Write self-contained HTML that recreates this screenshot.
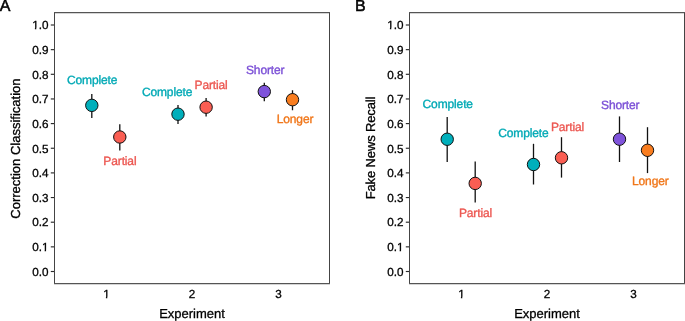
<!DOCTYPE html>
<html><head><meta charset="utf-8"><style>
html,body{margin:0;padding:0;background:#fff;width:685px;height:321px;overflow:hidden}
svg{display:block;font-family:"Liberation Sans",sans-serif;will-change:transform;color:#000}
text{stroke:currentColor;stroke-width:0.3px;paint-order:stroke;text-rendering:geometricPrecision}
</style></head><body>
<svg width="685" height="321" viewBox="0 0 685 321">
<rect width="685" height="321" fill="#fff"/>
<path d="M54.5 12V284M329.5 12V284" stroke="#444" stroke-width="1" fill="none"/>
<path d="M54 12.62H330M54 283.68H330" stroke="#555555" stroke-width="1.12" fill="none"/>
<line x1="50.8" y1="271.50" x2="54" y2="271.50" stroke="#2a2a2a" stroke-width="1.15"/>
<text x="48.4" y="275.75" text-anchor="end" font-size="11.7">0.0</text>
<line x1="50.8" y1="246.85" x2="54" y2="246.85" stroke="#2a2a2a" stroke-width="1.15"/>
<text x="48.4" y="251.10" text-anchor="end" font-size="11.7">0.1</text>
<line x1="50.8" y1="222.20" x2="54" y2="222.20" stroke="#2a2a2a" stroke-width="1.15"/>
<text x="48.4" y="226.45" text-anchor="end" font-size="11.7">0.2</text>
<line x1="50.8" y1="197.55" x2="54" y2="197.55" stroke="#2a2a2a" stroke-width="1.15"/>
<text x="48.4" y="201.80" text-anchor="end" font-size="11.7">0.3</text>
<line x1="50.8" y1="172.90" x2="54" y2="172.90" stroke="#2a2a2a" stroke-width="1.15"/>
<text x="48.4" y="177.15" text-anchor="end" font-size="11.7">0.4</text>
<line x1="50.8" y1="148.25" x2="54" y2="148.25" stroke="#2a2a2a" stroke-width="1.15"/>
<text x="48.4" y="152.50" text-anchor="end" font-size="11.7">0.5</text>
<line x1="50.8" y1="123.60" x2="54" y2="123.60" stroke="#2a2a2a" stroke-width="1.15"/>
<text x="48.4" y="127.85" text-anchor="end" font-size="11.7">0.6</text>
<line x1="50.8" y1="98.95" x2="54" y2="98.95" stroke="#2a2a2a" stroke-width="1.15"/>
<text x="48.4" y="103.20" text-anchor="end" font-size="11.7">0.7</text>
<line x1="50.8" y1="74.30" x2="54" y2="74.30" stroke="#2a2a2a" stroke-width="1.15"/>
<text x="48.4" y="78.55" text-anchor="end" font-size="11.7">0.8</text>
<line x1="50.8" y1="49.65" x2="54" y2="49.65" stroke="#2a2a2a" stroke-width="1.15"/>
<text x="48.4" y="53.90" text-anchor="end" font-size="11.7">0.9</text>
<line x1="50.8" y1="25.00" x2="54" y2="25.00" stroke="#2a2a2a" stroke-width="1.15"/>
<text x="48.4" y="29.25" text-anchor="end" font-size="11.7">1.0</text>
<text x="106.40" y="297.6" text-anchor="middle" font-size="11.7">1</text>
<text x="192.10" y="297.6" text-anchor="middle" font-size="11.7">2</text>
<text x="278.40" y="297.6" text-anchor="middle" font-size="11.7">3</text>
<text x="192.0" y="318.3" text-anchor="middle" font-size="13">Experiment</text>
<text transform="translate(19.5,148.6) rotate(-90)" text-anchor="middle" font-size="13" letter-spacing="0">Correction Classification</text>
<text x="-0.35" y="11" font-size="16" style="stroke-width:0.5px">A</text>
<line x1="91.8" y1="93.9" x2="91.8" y2="117.9" stroke="#111" stroke-width="1.3"/>
<circle cx="91.8" cy="105.35" r="6.2" fill="#00AFBB" stroke="#111" stroke-width="1.0"/>
<line x1="119.8" y1="124.3" x2="119.8" y2="150.5" stroke="#111" stroke-width="1.3"/>
<circle cx="119.8" cy="137" r="6.2" fill="#FA5E53" stroke="#111" stroke-width="1.0"/>
<line x1="178" y1="105" x2="178" y2="124" stroke="#111" stroke-width="1.3"/>
<circle cx="178" cy="114.2" r="6.2" fill="#00AFBB" stroke="#111" stroke-width="1.0"/>
<line x1="206.1" y1="98.1" x2="206.1" y2="116.6" stroke="#111" stroke-width="1.3"/>
<circle cx="206.1" cy="107.2" r="6.2" fill="#FA5E53" stroke="#111" stroke-width="1.0"/>
<line x1="264.3" y1="82.75" x2="264.3" y2="101.25" stroke="#111" stroke-width="1.3"/>
<circle cx="264.3" cy="91.6" r="6.2" fill="#7F53DB" stroke="#111" stroke-width="1.0"/>
<line x1="292.5" y1="90.25" x2="292.5" y2="110.25" stroke="#111" stroke-width="1.3"/>
<circle cx="292.5" cy="99.7" r="6.2" fill="#F97D1F" stroke="#111" stroke-width="1.0"/>
<text x="92.2" y="83.6" text-anchor="middle" font-size="12" letter-spacing="-0.13" fill="#00A9B5" color="#00A9B5" style="stroke-width:0.35px">Complete</text>
<text x="119.9" y="165.0" text-anchor="middle" font-size="12" letter-spacing="-0.13" fill="#EC5650" color="#EC5650" style="stroke-width:0.35px">Partial</text>
<text x="167.1" y="96.25" text-anchor="middle" font-size="12" letter-spacing="-0.13" fill="#00A9B5" color="#00A9B5" style="stroke-width:0.35px">Complete</text>
<text x="211.1" y="88.6" text-anchor="middle" font-size="12" letter-spacing="-0.13" fill="#EC5650" color="#EC5650" style="stroke-width:0.35px">Partial</text>
<text x="265.2" y="73.6" text-anchor="middle" font-size="12" letter-spacing="-0.13" fill="#7A4ED6" color="#7A4ED6" style="stroke-width:0.35px">Shorter</text>
<text x="295" y="123.2" text-anchor="middle" font-size="12" letter-spacing="-0.13" fill="#F07619" color="#F07619" style="stroke-width:0.35px">Longer</text>
<path d="M409.5 12V284M684.5 12V284" stroke="#444" stroke-width="1" fill="none"/>
<path d="M409 12.62H685M409 283.68H685" stroke="#555555" stroke-width="1.12" fill="none"/>
<line x1="405.8" y1="271.50" x2="409" y2="271.50" stroke="#2a2a2a" stroke-width="1.15"/>
<text x="403.4" y="275.75" text-anchor="end" font-size="11.7">0.0</text>
<line x1="405.8" y1="246.85" x2="409" y2="246.85" stroke="#2a2a2a" stroke-width="1.15"/>
<text x="403.4" y="251.10" text-anchor="end" font-size="11.7">0.1</text>
<line x1="405.8" y1="222.20" x2="409" y2="222.20" stroke="#2a2a2a" stroke-width="1.15"/>
<text x="403.4" y="226.45" text-anchor="end" font-size="11.7">0.2</text>
<line x1="405.8" y1="197.55" x2="409" y2="197.55" stroke="#2a2a2a" stroke-width="1.15"/>
<text x="403.4" y="201.80" text-anchor="end" font-size="11.7">0.3</text>
<line x1="405.8" y1="172.90" x2="409" y2="172.90" stroke="#2a2a2a" stroke-width="1.15"/>
<text x="403.4" y="177.15" text-anchor="end" font-size="11.7">0.4</text>
<line x1="405.8" y1="148.25" x2="409" y2="148.25" stroke="#2a2a2a" stroke-width="1.15"/>
<text x="403.4" y="152.50" text-anchor="end" font-size="11.7">0.5</text>
<line x1="405.8" y1="123.60" x2="409" y2="123.60" stroke="#2a2a2a" stroke-width="1.15"/>
<text x="403.4" y="127.85" text-anchor="end" font-size="11.7">0.6</text>
<line x1="405.8" y1="98.95" x2="409" y2="98.95" stroke="#2a2a2a" stroke-width="1.15"/>
<text x="403.4" y="103.20" text-anchor="end" font-size="11.7">0.7</text>
<line x1="405.8" y1="74.30" x2="409" y2="74.30" stroke="#2a2a2a" stroke-width="1.15"/>
<text x="403.4" y="78.55" text-anchor="end" font-size="11.7">0.8</text>
<line x1="405.8" y1="49.65" x2="409" y2="49.65" stroke="#2a2a2a" stroke-width="1.15"/>
<text x="403.4" y="53.90" text-anchor="end" font-size="11.7">0.9</text>
<line x1="405.8" y1="25.00" x2="409" y2="25.00" stroke="#2a2a2a" stroke-width="1.15"/>
<text x="403.4" y="29.25" text-anchor="end" font-size="11.7">1.0</text>
<text x="461.40" y="297.6" text-anchor="middle" font-size="11.7">1</text>
<text x="547.10" y="297.6" text-anchor="middle" font-size="11.7">2</text>
<text x="633.40" y="297.6" text-anchor="middle" font-size="11.7">3</text>
<text x="547.0" y="318.3" text-anchor="middle" font-size="13">Experiment</text>
<text transform="translate(374.5,148.0) rotate(-90)" text-anchor="middle" font-size="13" letter-spacing="-0.13">Fake News Recall</text>
<text x="355" y="11" font-size="16" style="stroke-width:0.5px">B</text>
<line x1="447.2" y1="117.1" x2="447.2" y2="162" stroke="#111" stroke-width="1.3"/>
<circle cx="447.2" cy="139.25" r="6.2" fill="#00AFBB" stroke="#111" stroke-width="1.0"/>
<line x1="475.2" y1="161.5" x2="475.2" y2="202.4" stroke="#111" stroke-width="1.3"/>
<circle cx="475.2" cy="183.4" r="6.2" fill="#FA5E53" stroke="#111" stroke-width="1.0"/>
<line x1="533.5" y1="143.8" x2="533.5" y2="184.5" stroke="#111" stroke-width="1.3"/>
<circle cx="533.5" cy="164.5" r="6.2" fill="#00AFBB" stroke="#111" stroke-width="1.0"/>
<line x1="561.5" y1="137.2" x2="561.5" y2="177.6" stroke="#111" stroke-width="1.3"/>
<circle cx="561.5" cy="157.8" r="6.2" fill="#FA5E53" stroke="#111" stroke-width="1.0"/>
<line x1="619.5" y1="116.4" x2="619.5" y2="162" stroke="#111" stroke-width="1.3"/>
<circle cx="619.5" cy="139.2" r="6.2" fill="#7F53DB" stroke="#111" stroke-width="1.0"/>
<line x1="647.5" y1="127.2" x2="647.5" y2="173.1" stroke="#111" stroke-width="1.3"/>
<circle cx="647.5" cy="150.3" r="6.2" fill="#F97D1F" stroke="#111" stroke-width="1.0"/>
<text x="447.75" y="108.3" text-anchor="middle" font-size="12" letter-spacing="-0.13" fill="#00A9B5" color="#00A9B5" style="stroke-width:0.35px">Complete</text>
<text x="475.45" y="216.55" text-anchor="middle" font-size="12" letter-spacing="-0.13" fill="#EC5650" color="#EC5650" style="stroke-width:0.35px">Partial</text>
<text x="523.4" y="136.6" text-anchor="middle" font-size="12" letter-spacing="-0.13" fill="#00A9B5" color="#00A9B5" style="stroke-width:0.35px">Complete</text>
<text x="567.45" y="130.95" text-anchor="middle" font-size="12" letter-spacing="-0.13" fill="#EC5650" color="#EC5650" style="stroke-width:0.35px">Partial</text>
<text x="620.25" y="108.95" text-anchor="middle" font-size="12" letter-spacing="-0.13" fill="#7A4ED6" color="#7A4ED6" style="stroke-width:0.35px">Shorter</text>
<text x="650.3" y="184.9" text-anchor="middle" font-size="12" letter-spacing="-0.13" fill="#F07619" color="#F07619" style="stroke-width:0.35px">Longer</text>
<rect x="41.39" y="249.83" width="3.24" height="2.17" fill="#fff"/><rect x="46.07" y="249.83" width="2.76" height="2.17" fill="#fff"/><rect x="31.64" y="27.83" width="3.24" height="2.17" fill="#fff"/><rect x="36.31" y="27.83" width="2.76" height="2.17" fill="#fff"/><rect x="102.65" y="296.83" width="3.24" height="2.17" fill="#fff"/><rect x="107.32" y="296.83" width="2.76" height="2.17" fill="#fff"/><rect x="396.39" y="249.83" width="3.24" height="2.17" fill="#fff"/><rect x="401.07" y="249.83" width="2.76" height="2.17" fill="#fff"/><rect x="386.64" y="27.83" width="3.24" height="2.17" fill="#fff"/><rect x="391.31" y="27.83" width="2.76" height="2.17" fill="#fff"/><rect x="457.65" y="296.83" width="3.24" height="2.17" fill="#fff"/><rect x="462.32" y="296.83" width="2.76" height="2.17" fill="#fff"/>
</svg>
</body></html>
